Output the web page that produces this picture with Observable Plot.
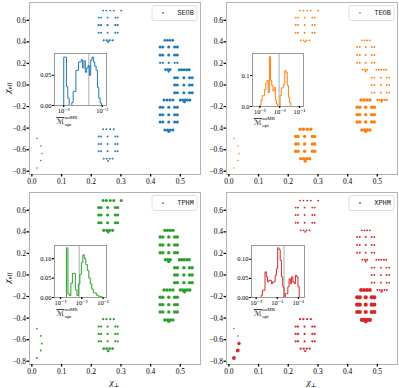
<!DOCTYPE html>
<html><head><meta charset="utf-8">
<script src="https://cdn.jsdelivr.net/npm/d3@7"></script>
<script src="https://cdn.jsdelivr.net/npm/@observablehq/plot@0.6"></script>
<style>
body{margin:0;background:#fff;}
#fig{position:relative;width:399px;height:388px;overflow:hidden;background:#fff;}
#fig svg{position:absolute;overflow:visible;}
</style></head><body><div id="fig"></div>
<script>
// ---------------- data ----------------
const approximants = ["SEOB", "TEOB", "TPHM", "XPHM"];
const colors = ["#1f77b4", "#ff7f0e", "#2ca02c", "#d62728"];
const chiPerpTicks = [0, 0.1, 0.2, 0.3, 0.4, 0.5];
const chiEffTicks = [-0.8, -0.6, -0.4, -0.2, 0, 0.2, 0.4, 0.6];

// injections: one chi_eff per row, the chi_perp values of that row
const rowChiEff = [
  -0.497, -0.565, -0.636, -0.70, -0.77,
  0.69, 0.625, 0.556, 0.484, 0.414, 0.40,
  -0.41, -0.478, -0.547, -0.615, -0.683, -0.705,
  0.414, 0.352, 0.278, 0.206, 0.142, 0.125, 0.142,
  0.068, 0.0, -0.071,
  -0.139, -0.139, -0.155, -0.207, -0.275, -0.343, -0.417, -0.43
];
const rowChiPerp = [
  [0.017], [0.030], [0.034], [0.030], [0.017],
  [0.240, 0.251, 0.264, 0.276, 0.301],
  [0.225, 0.233, 0.255, 0.281, 0.289],
  [0.225, 0.233, 0.255, 0.281, 0.289],
  [0.225, 0.233, 0.255, 0.281, 0.289],
  [0.242, 0.252, 0.262, 0.272],
  [0.257],
  [0.240, 0.251, 0.264, 0.276],
  [0.225, 0.233, 0.255, 0.281, 0.289],
  [0.225, 0.233, 0.255, 0.281, 0.289],
  [0.225, 0.233, 0.255, 0.281, 0.289],
  [0.242, 0.252, 0.262, 0.272],
  [0.257],
  [0.448, 0.457, 0.466, 0.475],
  [0.432, 0.441, 0.461, 0.481, 0.490],
  [0.432, 0.441, 0.461, 0.481, 0.490],
  [0.432, 0.441, 0.461, 0.481, 0.490],
  [0.450, 0.458, 0.466],
  [0.461],
  [0.497, 0.505, 0.513, 0.522, 0.530],
  [0.481, 0.490, 0.512, 0.531, 0.540],
  [0.481, 0.490, 0.512, 0.531, 0.540],
  [0.481, 0.490, 0.512, 0.531, 0.540],
  [0.445, 0.455, 0.465, 0.475],
  [0.500, 0.508, 0.516, 0.524, 0.532],
  [0.514],
  [0.432, 0.441, 0.461, 0.481, 0.490],
  [0.432, 0.441, 0.461, 0.481, 0.490],
  [0.432, 0.441, 0.461, 0.481, 0.490],
  [0.448, 0.457, 0.466, 0.475],
  [0.461]
];
// marker size level (mismatch magnitude) per row, per approximant
const levelSEOB = [1,1,1,1,1, 1.5,1.5,2,1.5,2,2, 1.5,1.5,1.5,1.5,1.5,1.5, 2.5,3,3,2,2.5,2,3, 3,3,3, 3,3,3,3,3,3,3,3];
const levelTEOB = [1,1,1,1,1, 1.5,1.5,1.5,1.5,1.5,1.5, 3.5,3.5,3.5,3.5,3.5,3.5, 1.5,1.5,1.5,1.5,1.5,1.5,1.5, 1.5,1.5,1.5, 3.5,2,2,3.5,3.5,3.5,3.5,3.5];
const levelTPHM = [1.5,1.5,1.5,1.5,1.5, 3,3,3,3,3,3, 2,2,2,2,2.5,2.5, 3.5,3.5,3.5,3.5,3.5,3.5,3.5, 3.5,3.5,3.5, 3.5,3.5,3.5,3.5,3.5,3.5,3.5,3.5];
const levelXPHM = [1,1,3.5,4,4, 1.5,1.5,1.5,1.5,1.5,1.5, 2,2,2,2,2,2, 1.5,1.5,1.5,1.5,1.5,1.5,1.5, 1.5,1.5,1.5, 4,1.5,2,4.5,4.5,4.5,4.5,4.5];

// inset histograms of the optimal mismatch (log10 bins)
const histLogStart = [-3.0, -3.0, -2.72, -2.76];
const histLogWidth = [0.035, 0.06, 0.07, 0.06];
const countsSEOB = [0.080,0.080,0.031,0.012,0,0,0.005,0.023,0.023,0.058,0.058,0.072,0.072,0.076,0.062,0.074,0.055,0.062,0.066,0.050,0.075,0.080,0.072,0.065,0.058,0.030,0.012,0.004,0];
const countsTEOB = [0.005,0.020,0.035,0.035,0.055,0.075,0.084,0.045,0.161,0.084,0.068,0.050,0.062,0.020,0.008,0,0,0.035,0.060,0.060,0.073,0.116,0.110,0.068,0.030,0.012,0];
const countsTPHM = [0.128,0.010,0.005,0.037,0.062,0.062,0.020,0.005,0.035,0.060,0.090,0.110,0.100,0.085,0.070,0.050,0.035,0.022,0.012,0.012,0.006,0.004,0.003,0.002,0];
const countsXPHM = [0.006,0.019,0.019,0.067,0.054,0.041,0.045,0.045,0.036,0.041,0.041,0.058,0.075,0.130,0.125,0.097,0.054,0.028,0,0.010,0.010,0.028,0.049,0.036,0.054,0.041,0.036,0.058,0.054,0.028,0];
const medianLog = [-2.35, -2.03, -2.12, -1.68];
const insetLogDomain = [[-3.24, -1.89], [-3.37, -0.80], [-3.28, -0.84], [-3.22, -0.71]];
const insetYMax = [0.086, 0.171, 0.134, 0.136];
const insetYTicks = [[0, 0.05], [0, 0.1], [0, 0.05, 0.1], [0, 0.05, 0.1]];
const insetYFormat = [".2f", ".1f", ".2f", ".2f"];
const insetXTicks = [[1e-3, 1e-2], [1e-3, 1e-2, 1e-1], [1e-3, 1e-2, 1e-1], [1e-3, 1e-2, 1e-1]];

// ---------------- drawing ----------------
const levels = [levelSEOB, levelTEOB, levelTPHM, levelXPHM];
const counts = [countsSEOB, countsTEOB, countsTPHM, countsXPHM];
const fig = document.getElementById("fig");
const serif = "'Liberation Serif', 'DejaVu Serif', serif";
const fmt1 = d3.format(".1f");
const supMap = {"-": "\u207B", "0": "\u2070", "1": "\u00B9", "2": "\u00B2", "3": "\u00B3", "4": "\u2074", "5": "\u2075", "6": "\u2076", "7": "\u2077", "8": "\u2078", "9": "\u2079"};
const pow10 = d => "10" + String(Math.round(Math.log10(d))).split("").map(c => supMap[c]).join("");

// panel layout (page px)
const panelPos = [[0, 0], [197, 0], [0, 188], [197, 188]];
const insetBox = [[54, 53, 52, 52], [252, 53, 51, 53], [54, 245, 52, 52], [251, 245, 53, 52]];

function mainPanel(i) {
  const bottom = i >= 2, left = i % 2 === 0;
  const W = 200, H = bottom ? 200 : 192;
  const mT = bottom ? 4 : 2, mB = bottom ? 24 : 18, mL = 29, mR = 0;
  const pts = [];
  rowChiEff.forEach((ce, r) => rowChiPerp[r].forEach(cp => pts.push({chiPerp: cp, chiEff: ce, level: levels[i][r]})));
  const node = Plot.plot({
    width: W, height: H, marginLeft: mL, marginRight: mR, marginTop: mT, marginBottom: mB,
    style: {background: "transparent", fontFamily: serif, fontSize: "7.5px", color: "#000", overflow: "visible"},
    x: {domain: [-0.008, 0.568]},
    y: {domain: [-0.83, 0.765]},
    r: {type: "linear", domain: [1, 5], range: [0.75, 2.3]},
    marks: [
      Plot.frame({stroke: "#b3b3b3", strokeWidth: 1}),
      Plot.dot(pts, {x: "chiPerp", y: "chiEff", r: "level", fill: colors[i], stroke: "none"}),
      Plot.axisX({ticks: chiPerpTicks, tickFormat: fmt1, tickSize: 2.5, tickPadding: 1.5, strokeWidth: 1.3, label: null, fontFamily: serif, fontSize: 7.5}),
      Plot.axisY({ticks: chiEffTicks, tickFormat: fmt1, tickSize: 2.5, tickPadding: 1, strokeWidth: 1.3, label: null, fontFamily: serif, fontSize: 7.5})
    ]
  });
  node.style.left = panelPos[i][0] + "px";
  node.style.top = panelPos[i][1] + "px";
  fig.appendChild(node);
  const svg = d3.select(node);
  const fr = W - mR, ft = mT, fb = H - mB;
  // legend
  const g = svg.append("g");
  g.append("rect").attr("x", fr - 48).attr("y", ft + 3.5).attr("width", 45).attr("height", 15).attr("rx", 2)
    .attr("fill", "white").attr("stroke", "#d5d5d5").attr("stroke-width", 0.8);
  g.append("circle").attr("cx", fr - 37).attr("cy", ft + 11).attr("r", 0.9).attr("fill", colors[i]);
  g.append("text").attr("x", fr - 6).attr("y", ft + 11).attr("text-anchor", "end").attr("dominant-baseline", "central")
    .attr("font-family", "'Liberation Mono', 'DejaVu Sans Mono', monospace").attr("font-size", 7).attr("fill", "#222").text(approximants[i]);
  if (left) {
    const t = svg.append("text").attr("transform", `translate(10,${(ft + fb) / 2}) rotate(-90)`)
      .attr("text-anchor", "middle").attr("font-family", serif).attr("font-size", 9).attr("fill", "#000");
    t.append("tspan").attr("font-style", "italic").text("χ");
    t.append("tspan").attr("font-size", 6).attr("dy", 1.8).text("eff");
  }
  if (bottom) {
    const t = svg.append("text").attr("x", (mL + fr) / 2).attr("y", H - 3)
      .attr("text-anchor", "middle").attr("font-family", serif).attr("font-size", 9).attr("fill", "#000");
    t.append("tspan").attr("font-style", "italic").text("χ");
    t.append("tspan").attr("font-size", 6).attr("dy", 1.8).text("⊥");
  }
}

function insetPanel(i) {
  const [L, T, w, h] = insetBox[i];
  const mL = 26, mT = 4, mR = 4, mB = 30;
  const start = histLogStart[i], width = histLogWidth[i], c = counts[i];
  const step = [{m: 10 ** start, f: 0}];
  c.forEach((v, k) => step.push({m: 10 ** (start + k * width), f: v}));
  step.push({m: 10 ** (start + c.length * width), f: 0});
  const node = Plot.plot({
    width: w + mL + mR, height: h + mT + mB, marginLeft: mL, marginRight: mR, marginTop: mT, marginBottom: mB,
    style: {background: "transparent", fontFamily: serif, fontSize: "6.5px", color: "#000", overflow: "visible"},
    x: {type: "log", domain: [10 ** insetLogDomain[i][0], 10 ** insetLogDomain[i][1]]},
    y: {domain: [0, insetYMax[i]]},
    marks: [
      Plot.frame({fill: "white", stroke: "none"}),
      Plot.ruleX([10 ** medianLog[i]], {stroke: "#999", strokeWidth: 0.8}),
      Plot.line(step, {x: "m", y: "f", curve: "step-after", stroke: colors[i], strokeWidth: 1}),
      Plot.frame({stroke: "#9a9a9a", strokeWidth: 1}),
      Plot.axisX({ticks: insetXTicks[i], tickFormat: pow10, tickSize: 2, tickPadding: 1, strokeWidth: 1.2, label: null, fontFamily: serif, fontSize: 6.5}),
      Plot.axisY({ticks: insetYTicks[i], tickFormat: d3.format(insetYFormat[i]), tickSize: 2, tickPadding: 1, strokeWidth: 1.2, label: null, fontFamily: serif, fontSize: 6.5})
    ]
  });
  node.style.left = (L - mL) + "px";
  node.style.top = (T - mT) + "px";
  fig.appendChild(node);
  const svg = d3.select(node);
  const cx = mL + w / 2, fb = mT + h;
  const t = svg.append("text").attr("x", cx).attr("y", fb + 19).attr("font-family", serif).attr("fill", "#000");
  const mSpan = t.append("tspan").attr("font-family", "'DejaVu Serif', 'DejaVu Sans', serif").attr("font-size", 7.5)
    .style("text-decoration", "overline").text("ℳ");
  const sup = t.append("tspan").attr("font-size", 5).attr("dy", -5).attr("dx", 0.5).text("noMR");
  const opt = t.append("tspan").attr("font-size", 5).attr("dy", 6.5).text("opt");
  const mw = mSpan.node().getComputedTextLength();
  const sw = sup.node().getComputedTextLength();
  opt.attr("dx", -sw);
  t.attr("x", cx - 5 - mw);
}

for (let i = 0; i < 4; i++) mainPanel(i);
for (let i = 0; i < 4; i++) insetPanel(i);
</script></body></html>
